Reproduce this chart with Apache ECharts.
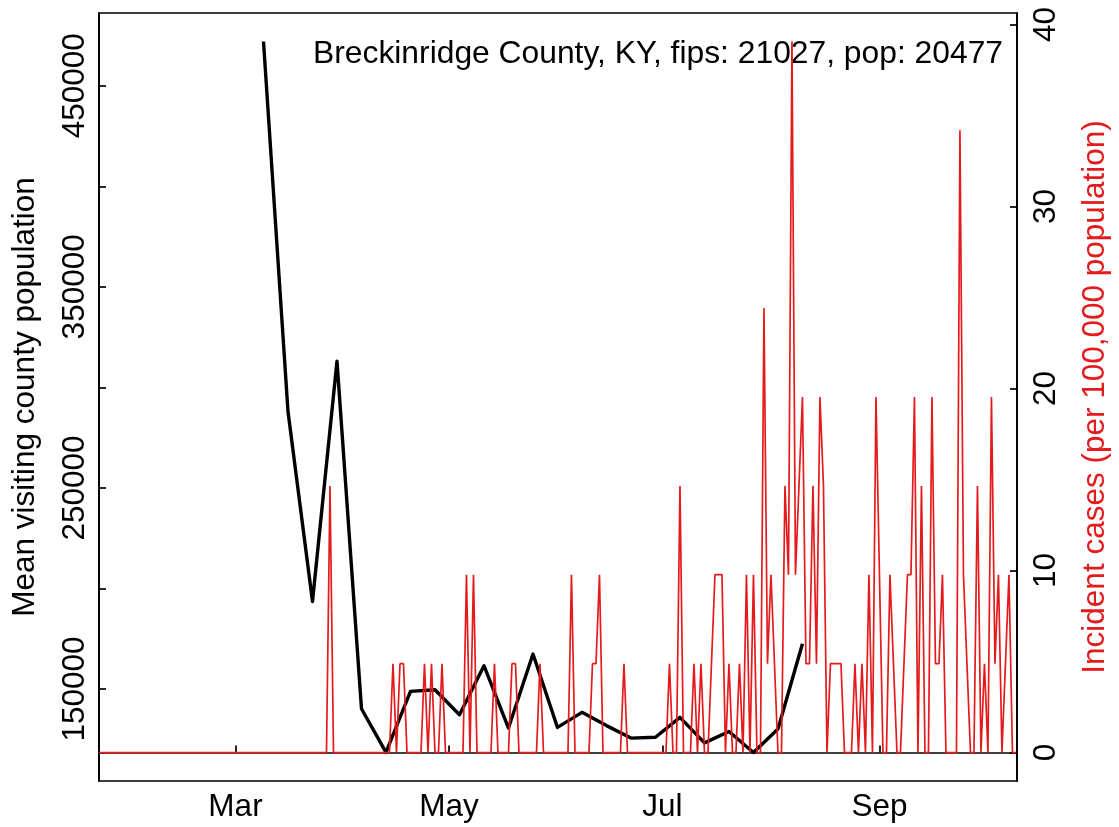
<!DOCTYPE html>
<html>
<head>
<meta charset="utf-8">
<script src="https://cdn.jsdelivr.net/npm/echarts@6/dist/echarts.min.js"></script>
<style>
  html, body { margin: 0; padding: 0; background: #ffffff; }
  #chart { width: 1119px; height: 827px; }
</style>
</head>
<body>
<div id="chart"></div>
<script>
// ---------------- data ----------------
const titleText = 'Breckinridge County, KY, fips: 21027, pop: 20477';
const leftAxisName = 'Mean visiting county population';
const rightAxisName = 'Incident cases (per 100,000 population)';

// weekly mean visiting county population (black line)
const mobilityDates = [
  '2020-03-09','2020-03-16','2020-03-23','2020-03-30','2020-04-06','2020-04-13',
  '2020-04-20','2020-04-27','2020-05-04','2020-05-11','2020-05-18','2020-05-25',
  '2020-06-01','2020-06-08','2020-06-15','2020-06-22','2020-06-29','2020-07-06',
  '2020-07-13','2020-07-20','2020-07-27','2020-08-03','2020-08-10'
];
const mobilityValues = [
  472000, 288000, 193500, 313000, 140200, 118500,
  148800, 149600, 137200, 161600, 130600, 167400,
  130900, 138400, 131800, 125600, 126000, 135900,
  123200, 128900, 118450, 130100, 172500
];

// daily incident cases per 100,000 (red line), one value per day from the start date
const casesStartDate = '2020-01-22';
const casesValues = [
  // Jan 22 - Mar 27 (days 0-65)
  0,0,0,0,0,0,0,0,0,0, 0,0,0,0,0,0,0,0,0,0,
  0,0,0,0,0,0,0,0,0,0, 0,0,0,0,0,0,0,0,0,0,
  0,0,0,0,0,0,0,0,0,0, 0,0,0,0,0,0,0,0,0,0,
  0,0,0,0,0,0,
  // day 66
  14.65,
  // days 67-83
  0,0,0,0,0,0,0,0,0,0,0,0,0,0,0,0,0,
  // days 84-99
  4.88,0,4.88,4.88,0,0,0,0,0,4.88,0,4.88,0,0,4.88,0,
  // days 100-119
  0,0,0,0,0,9.77,0,9.77,0,0,0,0,0,4.88,0,0,0,0,4.88,4.88,
  // days 120-139
  0,0,0,0,0,0,4.88,0,0,0,0,0,0,0,0,9.77,0,0,0,0,
  // days 140-159
  0,4.88,4.88,9.77,0,0,0,0,0,0,4.88,0,0,0,0,0,0,0,0,0,
  // days 160-179
  0,0,0,4.88,0,0,14.65,0,0,0,4.88,0,4.88,0,0,4.88,9.77,9.77,9.77,0,
  // days 180-199
  4.88,0,0,4.88,0,9.77,0,9.77,0,0,24.42,4.88,9.77,4.88,0,0,14.65,9.77,39.07,9.77,
  // days 200-219
  14.65,19.53,4.88,4.88,14.65,4.88,19.53,14.65,0,4.88,4.88,4.88,4.88,0,0,0,4.88,0,4.88,0,
  // days 220-239
  9.77,0,19.53,9.77,0,0,9.77,4.88,0,0,4.88,9.77,9.77,19.53,0,14.65,0,0,19.53,4.88,
  // days 240-259
  4.88,9.77,0,0,0,0,34.19,9.77,4.88,0,0,14.65,0,4.88,0,19.53,4.88,9.77,0,4.88,
  // days 260-262
  9.77,0,0
];

// axis ticks
const xTickDates = ['2020-03-01','2020-05-01','2020-07-01','2020-09-01'];
const xTickLabels = ['Mar','May','Jul','Sep'];
const leftTicks = [150000, 200000, 250000, 300000, 350000, 400000, 450000];
const leftTickLabels = [150000, 250000, 350000, 450000];
const rightTicks = [0, 10, 20, 30, 40];

// ---------------- build ----------------
const DAY = 86400000;
const t0 = Date.parse(casesStartDate);
const mobilityData = mobilityDates.map((d, i) => [Date.parse(d), mobilityValues[i]]);
const casesData = casesValues.map((v, i) => [t0 + i * DAY, v]);
const xTickValues = xTickDates.map(d => Date.parse(d));

const FONT = 'Liberation Sans, Arial, Helvetica, sans-serif';
const FS = 31.5;
const RED = '#E41A1C';

const chart = echarts.init(document.getElementById('chart'), null, { renderer: 'canvas' });
chart.setOption({
  animation: false,
  backgroundColor: '#ffffff',
  title: {
    text: titleText,
    right: 111,
    top: 33,
    textStyle: { fontFamily: FONT, fontSize: 31.8, fontWeight: 'normal', color: '#000' }
  },
  grid: {
    left: 99, right: 99, top: 13, bottom: 46,
    show: true, borderColor: '#000', borderWidth: 1.7, backgroundColor: 'transparent'
  },
  xAxis: {
    type: 'value',
    min: t0,
    max: t0 + 262.3 * DAY,
    axisLine: { show: true, lineStyle: { color: '#000', width: 1.7 } },
    axisTick: { show: true, inside: true, length: 7, customValues: xTickValues,
      lineStyle: { color: '#000', width: 1.7 } },
    axisLabel: {
      customValues: xTickValues,
      formatter: v => xTickLabels[xTickValues.indexOf(v)] || '',
      fontFamily: FONT, fontSize: FS, color: '#000', margin: 10
    },
    splitLine: { show: false }
  },
  yAxis: [
    {
      type: 'value', position: 'left',
      min: 104255, max: 486175,
      axisLine: { show: true, lineStyle: { color: '#000', width: 1.7 } },
      axisTick: { show: true, inside: true, length: 7, customValues: leftTicks,
        lineStyle: { color: '#000', width: 1.7 } },
      axisLabel: {
        customValues: leftTickLabels, rotate: 90,
        formatter: v => String(v),
        fontFamily: FONT, fontSize: FS, color: '#000', margin: 8
      },
      splitLine: { show: false },
      name: leftAxisName, nameLocation: 'middle', nameRotate: 90, nameGap: 58,
      nameTextStyle: { fontFamily: FONT, fontSize: FS, color: '#000' }
    },
    {
      type: 'value', position: 'right',
      min: -1.563, max: 40.63,
      axisLine: { show: true, lineStyle: { color: '#000', width: 1.7 } },
      axisTick: { show: true, inside: true, length: 7, customValues: rightTicks,
        lineStyle: { color: '#000', width: 1.7 } },
      axisLabel: {
        customValues: rightTicks, rotate: 90,
        formatter: v => String(v),
        fontFamily: FONT, fontSize: FS, color: '#000', margin: 13
      },
      splitLine: { show: false },
      name: rightAxisName, nameLocation: 'middle', nameRotate: 90, nameGap: 62,
      nameTextStyle: { fontFamily: FONT, fontSize: FS, color: RED }
    }
  ],
  series: [
    {
      name: 'mobility', type: 'line', yAxisIndex: 0, data: mobilityData,
      symbol: 'none', z: 3,
      lineStyle: { color: '#000', width: 3.4, join: 'round' }
    },
    {
      name: 'cases', type: 'line', yAxisIndex: 1, data: casesData,
      symbol: 'none', z: 10,
      lineStyle: { color: RED, width: 1.7 }
    }
  ]
});
</script>
</body>
</html>
